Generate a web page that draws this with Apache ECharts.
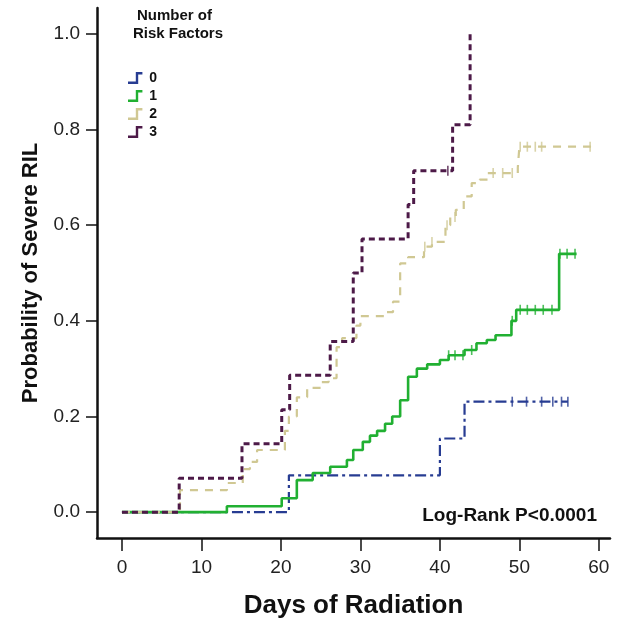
<!DOCTYPE html>
<html><head><meta charset="utf-8">
<script src="https://cdn.jsdelivr.net/npm/echarts@6/dist/echarts.min.js"></script>
<style>html,body{margin:0;padding:0;background:#fff}#c{width:618px;height:625px}</style>
</head><body><div id="c"></div>
<script>
// ---- data ----
const groupNames = ['0', '1', '2', '3'];
const xTicks = [0, 10, 20, 30, 40, 50, 60];
const yTicks = [0, 0.2, 0.4, 0.6, 0.8, 1.0];

const g0Days = [0, 21.0, 40.0, 43.1, 56.1];
const g0Prob = [0, 0.077, 0.154, 0.231, 0.231];
const g0Cens = [49.1, 50.9, 52.8, 54.2, 55.3, 56.1];

const g1Days = [0, 13.2, 20.1, 22.0, 24.0, 26.2, 28.3, 29.1, 30.3, 31.2, 32.1, 33.1, 34.0, 35.0, 36.0, 37.1, 38.4, 40.0, 41.1, 43.1, 44.6, 45.9, 47.0, 49.0, 49.6, 55.0, 57.2];
const g1Prob = [0, 0.0125, 0.029, 0.067, 0.082, 0.095, 0.109, 0.13, 0.147, 0.16, 0.17, 0.185, 0.2, 0.234, 0.283, 0.30, 0.309, 0.318, 0.328, 0.339, 0.353, 0.36, 0.37, 0.40, 0.423, 0.54, 0.54];
const g1Cens = [41.1, 41.9, 42.9, 44.0, 49.1, 50.1, 51.0, 52.0, 53.0, 54.1, 55.1, 56.0, 57.0];

const g2Days = [0, 7.3, 13.2, 15.2, 16.1, 17.0, 20.5, 21.0, 22.0, 23.3, 25.0, 26.0, 27.0, 27.7, 29.5, 30.0, 33.0, 34.1, 35.0, 36.0, 38.0, 39.0, 40.7, 41.3, 42.0, 43.0, 44.0, 45.0, 46.0, 49.8, 50.0, 59.5];
const g2Prob = [0, 0.046, 0.061, 0.09, 0.105, 0.13, 0.17, 0.2, 0.24, 0.26, 0.272, 0.28, 0.345, 0.364, 0.39, 0.41, 0.418, 0.44, 0.52, 0.533, 0.555, 0.565, 0.60, 0.617, 0.632, 0.66, 0.688, 0.695, 0.709, 0.72, 0.764, 0.764];
const g2Cens = [38.1, 39.0, 40.9, 41.9, 46.7, 47.9, 49.1, 50.1, 51.0, 52.0, 52.8, 58.9];

const g3Days = [0, 7.2, 15.1, 20.1, 21.1, 26.2, 29.1, 30.2, 36.0, 36.7, 41.6, 43.8];
const g3Prob = [0, 0.071, 0.143, 0.214, 0.286, 0.357, 0.5, 0.571, 0.643, 0.714, 0.81, 1.0];
const g3Cens = [41.0];

// ---- build ----
const colors = ['#273c92', '#21b032', '#d0c893', '#4d1a48'];
const dashes = [[11, 4, 3, 4], 'solid', [8, 7], [6, 4]];
const widths = [2.2, 2.6, 2.2, 3];
const groups = [
  [g0Days, g0Prob, g0Cens], [g1Days, g1Prob, g1Cens],
  [g2Days, g2Prob, g2Cens], [g3Days, g3Prob, g3Cens]
];
function stepAt(d, p, t) { let v = p[0]; for (let i = 0; i < d.length; i++) { if (d[i] <= t) v = p[i]; } return v; }

const stepIcon = 'path://M0,20 L13,20 L13,4 L24,4 L24,8 L17,8 L17,24 L0,24 Z';
const series = [];
const order = [1, 0, 2, 3];
order.forEach(function (gi) {
  const [d, p, c] = groups[gi];
  series.push({
    name: groupNames[gi], type: 'line', step: 'end', showSymbol: false, symbol: 'none',
    data: d.map((x, i) => [x, p[i]]),
    lineStyle: { color: colors[gi], width: widths[gi], type: dashes[gi] },
    itemStyle: { color: colors[gi] }, z: 2 + gi, silent: true
  });
  series.push({
    name: 'cens' + gi, type: 'scatter', symbol: 'rect', symbolSize: [1.6, 10],
    data: c.map(t => [t, stepAt(d, p, t)]),
    itemStyle: { color: colors[gi] }, z: 2 + gi, silent: true
  });
});

const chart = echarts.init(document.getElementById('c'), null, { renderer: 'canvas' });
chart.setOption({
  animation: false,
  backgroundColor: '#fff',
  grid: { left: 97, right: 8, top: 8, bottom: 87, containLabel: false },
  xAxis: {
    type: 'value', min: -3.14, max: 61.4,
    name: 'Days of Radiation', nameLocation: 'middle', nameGap: 55,
    nameTextStyle: { fontFamily: 'Liberation Sans', fontWeight: 'bold', fontSize: 26, color: '#111' },
    axisLine: { show: true, onZero: false, lineStyle: { color: '#111', width: 2.5 } },
    axisTick: { show: true, customValues: xTicks, length: 13, lineStyle: { color: '#111', width: 1.5 } },
    axisLabel: { customValues: xTicks, margin: 20, fontFamily: 'Liberation Sans', fontSize: 19, color: '#222' },
    splitLine: { show: false }
  },
  yAxis: {
    type: 'value', min: -0.054, max: 1.054,
    name: 'Probability of Severe RIL', nameLocation: 'middle', nameGap: 55, nameRotate: 90,
    nameTextStyle: { fontFamily: 'Liberation Sans', fontWeight: 'bold', fontSize: 22, color: '#111' },
    axisLine: { show: true, onZero: false, lineStyle: { color: '#111', width: 2.5 } },
    axisTick: { show: true, customValues: yTicks, length: 11, lineStyle: { color: '#111', width: 1.5 } },
    axisLabel: { customValues: yTicks, margin: 17, fontFamily: 'Liberation Sans', fontSize: 19, color: '#222',
      formatter: v => v.toFixed(1) },
    splitLine: { show: false }
  },
  legend: {
    data: groupNames.map(n => ({ name: n, icon: stepIcon })),
    orient: 'vertical', left: 123, top: 66, itemGap: 4, itemWidth: 24, itemHeight: 12,
    textStyle: { fontFamily: 'Liberation Sans', fontWeight: 'bold', fontSize: 14, lineHeight: 13, color: '#111', padding: [0, 0, 0, -3] },
    selectedMode: false
  },
  graphic: [
    { type: 'text', left: 137, top: 8, style: { text: 'Number of', font: 'bold 15px "Liberation Sans"', fill: '#111' } },
    { type: 'text', left: 133, top: 26, style: { text: 'Risk Factors', font: 'bold 15px "Liberation Sans"', fill: '#111' } },
    { type: 'text', right: 21, top: 506, style: { text: 'Log-Rank P<0.0001', font: 'bold 19px "Liberation Sans"', fill: '#111' } }
  ],
  series: series
});
</script></body></html>
